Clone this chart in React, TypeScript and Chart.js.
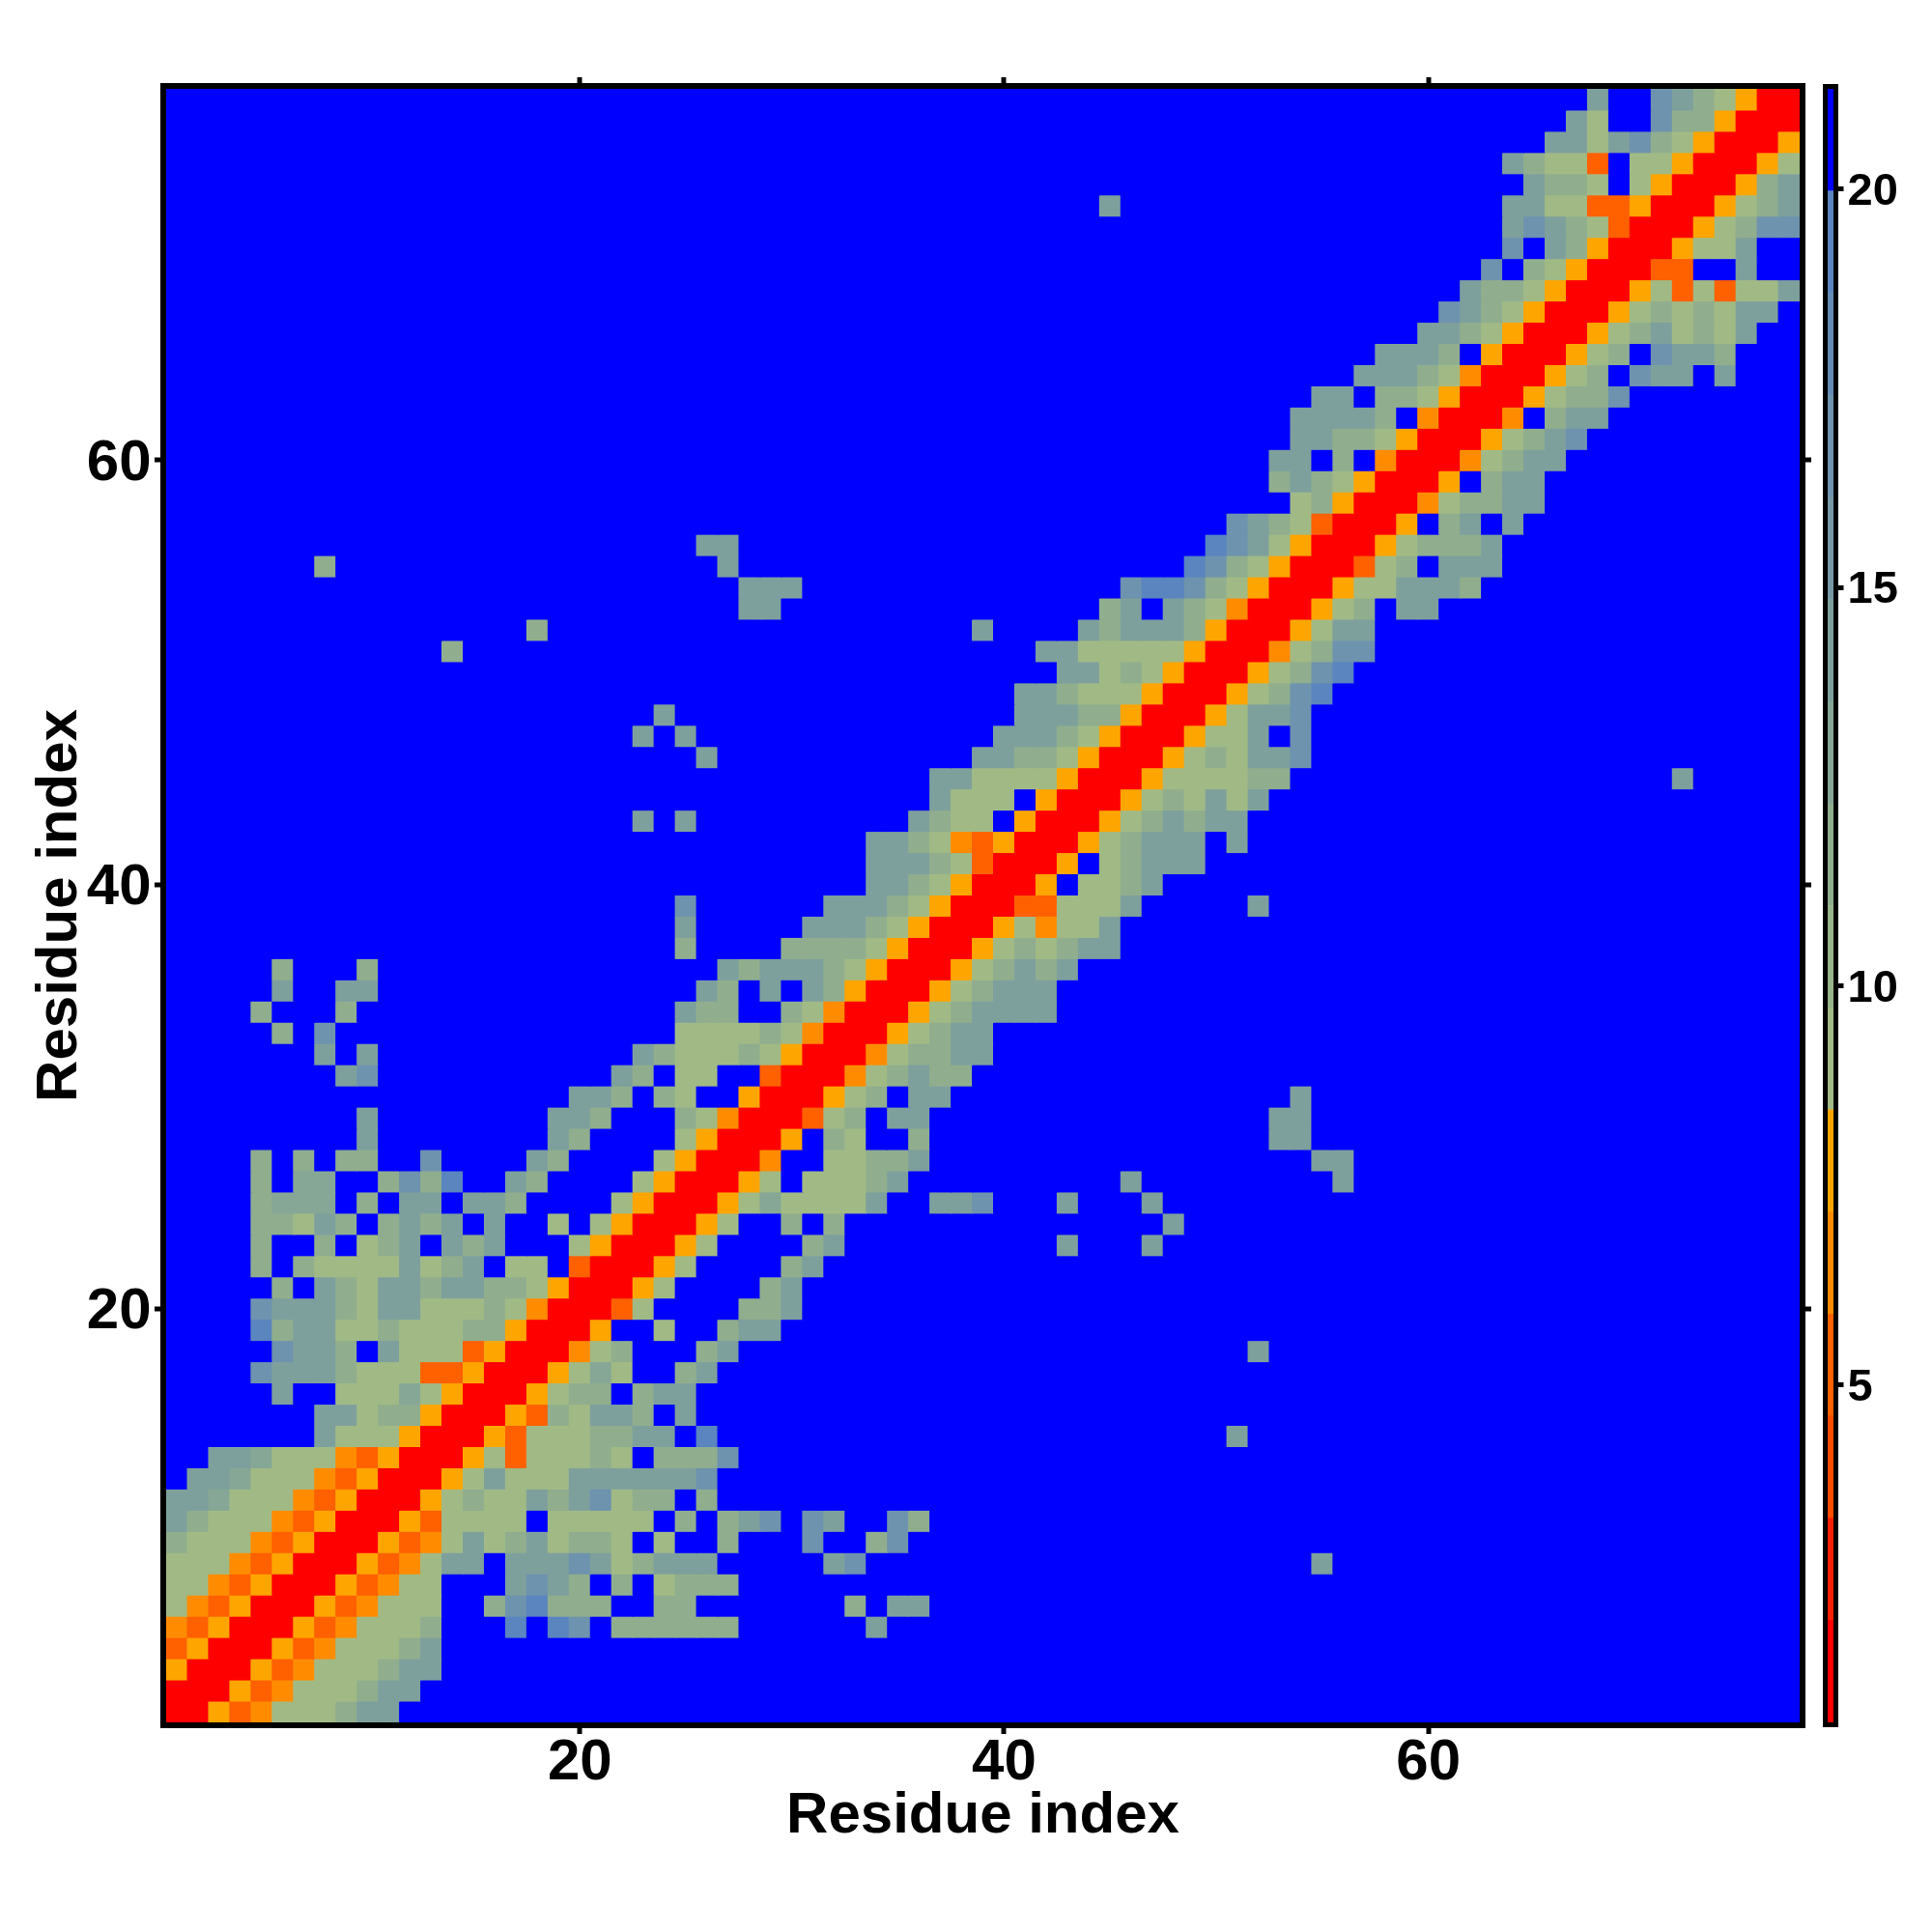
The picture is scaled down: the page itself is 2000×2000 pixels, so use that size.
import React, { useEffect, useRef } from "react";
import { Chart, registerables } from "chart.js";

Chart.register(...registerables);

const FONT = "'Liberation Sans', Arial, sans-serif";
const axisTitle = "Residue index";
const residueTicks = [20, 40, 60];
const colorbarTicks = [5, 10, 15, 20];
const residueCount = 77;

// colour bins of the legend, from low to high
const binEdges = [0.77, 2.05, 3.33, 4.61, 5.89, 7.17, 8.45, 9.73, 11.01, 12.29, 13.57, 14.85, 16.13, 17.41, 18.69, 19.97, 21.25];
const binColors = ["#ff0000", "#f82000", "#fb4c00", "#ff6000", "#ff8c00", "#ffa500", "#a1ba85", "#98b48a", "#90ae8e", "#86a796", "#7ea09d", "#7699a5", "#6e93ae", "#648cb6", "#5a85bf", "#0000ff"];

// distance
const codeValues: Record<string, number> = { r: 1.41, a: 5.25, o: 6.53, y: 7.81, g: 9.09, h: 11.65, m: 12.93, t: 14.21, s: 16.77, c: 19.33 };
const farValue = 20.61;

// each row: "startColumn:cells ..."; cells not listed are farValue
const rows1to20 = [
  "1:rryaoggghtt",
  "1:rrryaoggghtt",
  "1:yrrryaoggghtt",
  "1:ayrrryaoggght",
  "1:oayrrryaogggh 17:c 19:cs 22:hhhhhh 34:t",
  "1:goayrrryaoggg 16:hschhh 24:hh 33:h 35:tt",
  "1:ggoayrrryaogg 17:tsth 22:h 24:ghhh",
  "1:gggoayrrryaogtt 17:tttstghttt 32:ts 55:t",
  "1:hgggoayrrryaogtghtghhg 24:g 27:h 31:s 34:hs",
  "1:thgggoayrrryagggg 19:ggggg 25:h 27:hts 31:st 35:sh",
  "1:ttmgggoayrrryghggthtsghh 26:h",
  "2:ttmgggoayrrrygtgggtttttts",
  "3:ttmgggoayrrrygaggghg 24:hhhs",
  "8:tgggyrrryaggghhtt 26:c 51:t",
  "8:ttghhyrrryahgtth 25:t",
  "6:t 9:gggmgyrrryghh 23:htt",
  "5:sttthgggaayrrrygmg 25:ht",
  "6:stth 11:tgggayrrrogh 26:ht 52:t",
  "5:chttgghggghhyrrry 24:g 27:htt",
  "5:sttthgttggghgorrrag 28:hht",
];
const rows21to40 = [
  "6:h 8:thgtthtthhgyrrryg 29:ht",
  "5:h 7:hggggtght 17:gg 20:arrryg 30:ht",
  "5:h 8:h 10:ght 14:tht 20:gyrrryg 31:ht 43:t 47:t",
  "5:hhgth 11:htht 16:t 19:g 21:gyrrryg 30:h 32:h 48:t",
  "5:hmmm 10:h 12:tt 15:tth 22:gyrrrygmggggt 37:tts 43:t 47:t",
  "5:h 7:mm 11:hshc 17:th 23:gyrrryg 31:ggght 46:t 56:t",
  "5:h 7:h 9:hh 13:s 18:th 24:gyrrro 32:gghht 55:tt",
  "10:t 19:th 25:gyrrry 32:hg 36:h 53:tt",
  "10:t 19:tth 25:hgorrragh 35:tt 53:tt",
  "20:tth 24:hg 28:yrrrygh 36:tt 54:t",
  "9:ts 22:th 25:gg 29:arrroghthh",
  "8:t 10:t 23:thggghgyrrroghhtt",
  "6:h 8:s 25:gggghgorrryghtt",
  "5:h 9:h 25:thh 30:hgorrryghtttt",
  "6:t 9:tt 26:th 29:t 31:thyrrryghttt",
  "6:h 10:h 27:thttthgyrrryghtht",
  "25:h 30:hhhhgyrrryghghtt",
  "25:t 31:ttthgyrrrygoggt",
  "25:s 32:ttthgyrrraagggt 52:t",
  "34:tthgyrrry 44:gght",
];
const rows41to60 = [
  "34:ttthgarrry 45:ghttt",
  "34:tthgoayrrryghttt 51:t",
  "23:t 25:t 36:thgg 41:yrrryghthtt",
  "37:tggg 42:yrrryghgtgt",
  "37:ttggggyrrrygggghh 72:t",
  "26:t 39:tthhgyrrryghgtts",
  "23:t 25:t 40:ttthgyrrryggt 54:s",
  "24:t 41:ttthhyrrrygtts",
  "41:tthgggyrrryghsc",
  "43:ttghgyrrryghsc",
  "14:h 42:ttgggggyrrroghss",
  "18:h 39:t 44:thttthyrrrygtt",
  "28:tt 45:ht 48:thgorrrygh 59:tt",
  "28:ttt 46:sccshgyrrryggttth",
  "8:h 27:t 49:cshgyrrragh 61:ttt",
  "26:tt 50:cstgyrrryghhht",
  "51:sthgarrry 61:ht 64:t",
  "54:ghyrrroghhtt",
  "53:hthgyrrry 63:htt",
  "53:tt 56:h 58:orrroghtt",
];
const rows61to77 = [
  "54:tthhgyrrryghts",
  "54:tttth 60:orrro 66:htt",
  "55:tt 58:hhgyrrryghhs",
  "57:ttthgorrrygh 70:stt 74:t",
  "58:ttth 63:yrrrygh 71:stth",
  "60:tthgyrrryghtghgt",
  "61:sthgyrrryghghgtt",
  "62:thhgyrrrygagaggt",
  "63:s 65:hgyrrraa 75:t",
  "64:s 66:thyrrryggt",
  "64:tsthgarrryghss",
  "45:t 64:ttggaayrrryght",
  "65:thhg 70:gyrrryht",
  "64:thgga 70:ggyrrryg",
  "66:ttgtshgyrrry",
  "67:tg 71:shhyrrr",
  "68:t 71:sthgyrr",
];

type Cell = { x: number; y: number; v: number };

function decodeCells(): Cell[] {
  const rows = [...rows1to20, ...rows21to40, ...rows41to60, ...rows61to77];
  const cells: Cell[] = [];
  rows.forEach((row, rowIndex) => {
    const values: number[] = new Array(residueCount).fill(farValue);
    for (const seg of row.split(" ")) {
      const [start, codes] = seg.split(":");
      [...codes].forEach((code, i) => {
        values[Number(start) - 1 + i] = codeValues[code];
      });
    }
    values.forEach((v, col) => cells.push({ x: col + 1, y: rowIndex + 1, v }));
  });
  return cells;
}

function colorOf(v: number): string {
  for (let i = 0; i < binColors.length; i++) {
    if (v < binEdges[i + 1]) return binColors[i];
  }
  return binColors[binColors.length - 1];
}

const fix = (size: number) => (scale: any) => {
  if (scale.isHorizontal()) scale.height = size;
  else scale.width = size;
};

// a blank first line moves the label down by half of the (small) line height
const loweredLabel = (v: any) => ["", String(v)];

function mainAxis(position: string, size: number, labelled: boolean, extra: any = {}) {
  const horizontal = position === "top" || position === "bottom";
  const range = 0.137;
  return {
    type: "linear",
    position,
    min: 0.5 - range,
    max: 77.5 + range,
    afterBuildTicks: (s: any) => {
      s.ticks = residueTicks.map((value) => ({ value }));
    },
    afterFit: fix(size),
    border: { display: true, color: "#000", width: 6, z: 2 },
    grid: { drawOnChartArea: false, drawTicks: true, tickLength: 9, tickWidth: 5, tickColor: "#000", lineWidth: 6, color: "#000" },
    ticks: {
      display: labelled,
      color: "#000",
      padding: horizontal ? -6 : 3.5,
      maxRotation: 0,
      autoSkip: false,
      ...(horizontal
        ? { font: { family: FONT, weight: "bold", size: 60 } }
        : { callback: loweredLabel, font: { family: FONT, weight: "bold", size: 60, lineHeight: 8 / 60 } }),
    },
    ...extra,
  };
}

const farBackdrop = {
  id: "farBackdrop",
  beforeDatasetsDraw(chart: any) {
    const { ctx, chartArea } = chart;
    ctx.save();
    ctx.fillStyle = colorOf(farValue);
    ctx.fillRect(chartArea.left, chartArea.top, chartArea.right - chartArea.left, chartArea.bottom - chartArea.top);
    ctx.restore();
  },
};

export default function App() {
  const mainRef = useRef<HTMLCanvasElement>(null);
  const barRef = useRef<HTMLCanvasElement>(null);

  useEffect(() => {
    const main = new Chart(mainRef.current as HTMLCanvasElement, {
      type: "scatter",
      plugins: [farBackdrop],
      data: {
        datasets: [
          {
            data: decodeCells() as any,
            pointStyle: "rect",
            pointRadius: 16.2,
            pointBorderWidth: 0,
            pointHoverRadius: 16.2,
            pointBackgroundColor: (ctx: any) => colorOf(ctx.raw.v),
          },
        ],
      },
      options: {
        animation: false,
        responsive: false,
        devicePixelRatio: 1,
        events: [],
        layout: { padding: 0, autoPadding: false },
        plugins: { legend: { display: false }, tooltip: { enabled: false } },
        scales: {
          x: mainAxis("bottom", 214, true, {
            title: { display: true, text: axisTitle, color: "#000", padding: { top: 0, bottom: 83.5 }, font: { family: FONT, weight: "bold", size: 60 } },
          }),
          y: mainAxis("left", 169, true, {
            title: { display: true, text: axisTitle, color: "#000", padding: { top: 26.8, bottom: 0 }, font: { family: FONT, weight: "bold", size: 60 } },
          }),
          x2: mainAxis("top", 89, false),
          y2: mainAxis("right", 134, false),
        },
      } as any,
    });

    const barAxis = (position: string, size: number) => ({
      type: "linear",
      position,
      min: 0.74,
      max: 21.28,
      afterBuildTicks: (s: any) => {
        s.ticks = position === "right" ? colorbarTicks.map((value) => ({ value })) : [];
      },
      afterFit: fix(size),
      border: { display: true, color: "#000", width: 5, z: 2 },
      grid: { drawOnChartArea: false, drawTicks: position === "right", tickLength: 8, tickWidth: 5, tickColor: "#000", lineWidth: 5, color: "#000" },
      ticks: {
        display: position === "right",
        color: "#000",
        padding: 4,
        callback: loweredLabel,
        font: { family: FONT, weight: "bold", size: 47, lineHeight: 7 / 47 },
      },
    });
    const barEdge = (position: string, size: number, stacked: boolean) => ({
      type: "category",
      position,
      stacked,
      afterFit: fix(size),
      border: { display: true, color: "#000", width: 5, z: 2 },
      grid: { drawOnChartArea: false, drawTicks: false, lineWidth: 5, color: "#000" },
      ticks: { display: false },
    });

    const bar = new Chart(barRef.current as HTMLCanvasElement, {
      type: "bar",
      data: {
        labels: ["scale"],
        datasets: binColors.map((color, i) => ({
          data: [[binEdges[i], binEdges[i + 1]]] as any,
          backgroundColor: color,
          borderWidth: 0,
          barPercentage: 1,
          categoryPercentage: 1,
          xAxisID: "x",
          yAxisID: "y",
        })),
      },
      options: {
        animation: false,
        responsive: false,
        devicePixelRatio: 1,
        events: [],
        layout: { padding: 0, autoPadding: false },
        plugins: { legend: { display: false }, tooltip: { enabled: false } },
        scales: {
          x: barEdge("bottom", 214.5, true),
          x2: barEdge("top", 89.5, false),
          y: barAxis("left", 1889.5),
          y2: barAxis("right", 99.5),
        },
      } as any,
    });

    return () => {
      main.destroy();
      bar.destroy();
    };
  }, []);

  const layer: React.CSSProperties = { position: "absolute", left: 0, top: 0, width: 2000, height: 2000, display: "block" };
  return (
    <div style={{ position: "absolute", left: 0, top: 0, width: 2000, height: 2000, background: "#fff" }}>
      <canvas ref={mainRef} width={2000} height={2000} style={layer} />
      <canvas ref={barRef} width={2000} height={2000} style={layer} />
    </div>
  );
}
